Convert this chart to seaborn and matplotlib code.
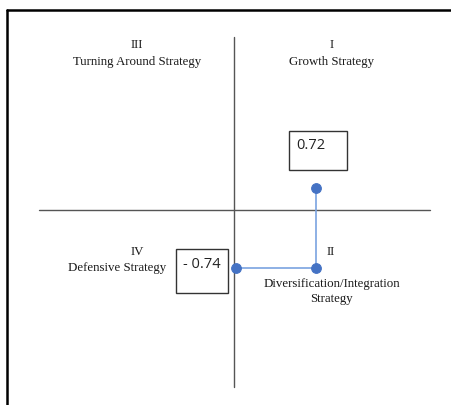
import matplotlib
matplotlib.use("Agg")
import matplotlib.pyplot as plt
import seaborn as sns
import pandas as pd
from matplotlib.patches import Rectangle
from matplotlib.lines import Line2D

# strategy path (x = axis position, y = axis position)
path_x = [0.42, 0.42, 0.01]
path_y = [0.13, -0.33, -0.33]
value_labels = ["0.72", "- 0.74"]
quadrants = [
    ("III", "Turning Around Strategy"),
    ("I", "Growth Strategy"),
    ("IV", "Defensive Strategy"),
    ("II", "Diversification/Integration\nStrategy"),
]

sns.set_style("white")
plt.rcParams['font.family'] = ['Liberation Serif', 'DejaVu Serif']

fig = plt.figure(figsize=(4.52, 4.05), dpi=100)
ax = fig.add_axes([0, 0, 1, 1])

# quadrant axes
ax.plot([-1.0, 1.0], [0, 0], color="#555555", lw=1.0)
ax.plot([0, 0], [-1.005, 0.99], color="#555555", lw=1.0)

df = pd.DataFrame({"x": path_x, "y": path_y})
sns.lineplot(data=df, x="x", y="y", sort=False, estimator=None, errorbar=None,
             ax=ax, color="#7aa3e0", lw=1.2,
             marker="o", markersize=7, markerfacecolor="#4472C4",
             markeredgecolor="#4472C4")
ax.set_xlim(-1.197, 1.115)
ax.set_ylim(-1.108, 1.199)
ax.axis("off")

# value boxes
ax.add_patch(Rectangle((0.281, 0.231), 0.297, 0.222, fill=False, ec="#333333", lw=1.0))
ax.add_patch(Rectangle((-0.297, -0.470), 0.266, 0.251, fill=False, ec="#333333", lw=1.0))
ax.text(0.394, 0.368, value_labels[0], ha="center", va="center", fontsize=10.5,
        family=["Open Sans", "DejaVu Sans"], color="#222222")
ax.text(-0.164, -0.305, value_labels[1], ha="center", va="center", fontsize=10.5,
        family=["Open Sans", "DejaVu Sans"], color="#222222")

# quadrant labels
fs = 9.3
tc = "#1a1a1a"
ax.text(-0.496, 0.943, quadrants[0][0], ha="center", va="center", fontsize=fs, color=tc)
ax.text(-0.496, 0.846, quadrants[0][1], ha="center", va="center", fontsize=fs, color=tc)
ax.text(0.501, 0.943, quadrants[1][0], ha="center", va="center", fontsize=fs, color=tc)
ax.text(0.501, 0.846, quadrants[1][1], ha="center", va="center", fontsize=fs, color=tc)
ax.text(-0.496, -0.236, quadrants[2][0], ha="center", va="center", fontsize=fs, color=tc)
ax.text(-0.598, -0.328, quadrants[2][1], ha="center", va="center", fontsize=fs, color=tc)
ax.text(0.496, -0.236, quadrants[3][0], ha="center", va="center", fontsize=fs, color=tc)
ax.text(0.501, -0.462, quadrants[3][1], ha="center", va="center", fontsize=fs,
        color=tc, linespacing=1.35)

# outer frame (top and left)
fig.add_artist(Line2D([7 / 452, 1], [1 - 10 / 405, 1 - 10 / 405], color="black", lw=1.8))
fig.add_artist(Line2D([7 / 452, 7 / 452], [0, 1 - 10 / 405], color="black", lw=1.8))

fig.savefig("out.png", dpi=100)
